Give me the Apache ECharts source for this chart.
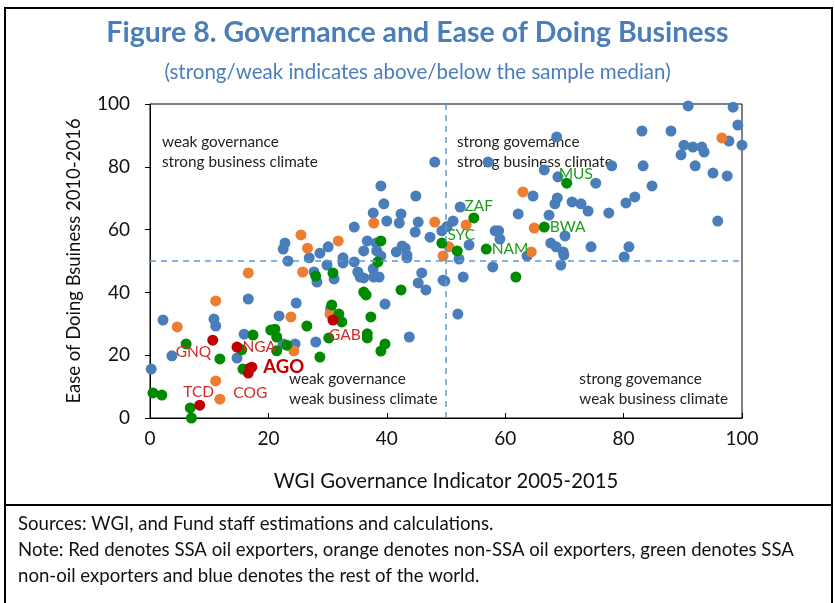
<!DOCTYPE html>
<html>
<head>
<meta charset="utf-8">
<script src="https://cdn.jsdelivr.net/npm/echarts@6/dist/echarts.min.js"></script>
<style>
  html, body { margin: 0; padding: 0; background: #fff; }
  #chart { width: 835px; height: 603px; }
</style>
</head>
<body>
<div id="chart"></div>
<script>
// values: [WGI governance, ease of doing business]
var restOfWorld = [
  [0.2,15.6],[2.2,31.2],[3.7,19.8],[10.8,31.5],[11.1,29.3],[14.7,19.1],[15.9,26.7],[16.6,37.9],
  [21.8,32.5],[22.5,23.6],[24.5,23.6],[24.7,36.6],[22.5,53.8],[22.8,55.7],[23.3,50],[26.9,51],
  [28.7,52.5],[30.1,54.5],[29.9,48.7],[27.7,46.5],[28.2,43.3],[31.1,44.3],[28,24.2],[30.5,34.8],
  [32.6,51],[32.6,49.4],[34.5,49.7],[34.5,60.8],[35.1,46.5],[35.5,44.9],[36.1,44.6],[36.7,56.4],
  [38.2,55.7],[36.1,53.2],[38.3,53.2],[39,51.6],[37.7,47.5],[37.8,44.9],[38.7,44.9],[39,73.9],
  [39.5,68.2],[37.7,65.3],[42.4,65],[40,62.7],[42.1,62.1],[45.3,62.4],[44.9,70.7],[44.8,59.2],
  [47.3,57.6],[49.3,59.6],[50.2,61],[51.2,62.7],[52.4,67.2],[48.1,81.5],[42.6,54.8],[43.1,54.1],
  [41.6,52.9],[43.4,51.9],[43.4,51],[45.9,46.2],[45.3,43],[46.6,40.8],[39.7,36.3],[43.8,25.8],
  [49.5,43.9],[52.2,50.6],[52.9,44.9],[52,33.1],[53.9,55.1],[57.9,48.1],[58.3,59.6],[58.9,59.6],
  [59.1,57],[57.1,81.5],[62.2,65],[63.7,51.6],[64.7,70.7],[66.6,79],[67.4,64.6],[67.7,55.7],
  [68.6,54.5],[69.8,52.9],[69.4,48.7],[70.1,58],[68.8,70.1],[68.4,68.2],[68.9,76.8],[68.7,89.5],
  [71.3,68.8],[72.8,68.2],[74,65.9],[74.5,54.5],[75.3,74.8],[77.5,65.3],[78,80.3],[80.1,51.3],
  [80.9,54.5],[80.4,68.5],[81.9,70.4],[83.3,80.3],[84.8,73.9],[83.1,91.4],[88,91.4],[89.7,83.8],
  [90.2,86.9],[91.7,86.3],[93.2,86.3],[93.6,84.7],[90.9,99.4],[92.1,80.3],[95.1,78],[95.9,62.7],
  [97.5,77.1],[97.8,88.2],[98.5,99],[99.3,93.3],[100,86.9],[49.8,43.6],[69.9,51.9]
];

var nonSsaOil = [
  [4.6,29],[11.1,37.3],[11.1,11.8],[11.8,6],[16.6,46.2],[23.8,32.2],[24.3,21.4],[25.5,58.3],
  [26.6,54.1],[25.8,46.5],[31.8,56.4],[30.4,33.1],[37.8,62.1],[48.1,62.4],[49.5,51.6],[50.5,54.5],
  [53.4,61.5],[63,72],[64.9,60.5],[64.4,52.9],[96.6,89.2]
];

var ssaNonOil = [
  [0.5,8],[2,7.3],[6.1,23.6],[6.8,3.2],[7,0],[11.8,18.8],[15.5,21.7],[15.7,15.6],[17.4,26.4],
  [20.4,28],[21.1,28.3],[21.4,25.8],[21.4,21.4],[23.1,23.2],[26.5,29.3],[28,45.2],[30.9,46.2],
  [28.7,19.4],[30.2,25.5],[30.7,36],[31.9,33.1],[32.4,30.6],[36.1,40.1],[36.5,39.2],[37.3,32.2],
  [36.7,26.8],[36.7,25.5],[39,56.4],[38.5,49.7],[42.4,40.8],[39.7,23.6],[39,21.3],[49.3,55.7],
  [51.9,53.2],[54.7,63.7],[56.8,53.8],[61.8,44.9],[66.6,60.8],[70.4,74.8]
];
var ssaNonOilNames = ['','','','','','','','','','','','','','','','','','','','','','','','','','','','','','','','','',
  'SYC','ZAF','NAM','','BWA','MUS'];

var ssaOil = [[10.6,24.8],[14.7,22.6],[17.2,16.2],[16.6,14.3],[16.9,15.9],[8.4,4.1],[30.9,31.2]];
var ssaOilNames = ['GNQ','NGA','AGO','COG','','TCD','GAB'];

var xTicks = [0, 20, 40, 60, 80, 100];
var yTicks = [0, 20, 40, 60, 80, 100];
var median = 50;

var FONT = 'Lato';
var BLUE = '#4A7EBB', ORANGE = '#ED7D31', GREEN = '#008A00', RED = '#C00000';

// where each country label sits relative to its dot
var labelPlace = {
  GNQ: { position: 'left', offset: [6, 12] },
  NGA: { position: 'right', offset: [-2, 0] },
  AGO: { position: 'right', offset: [4, 0], fontWeight: 'bold', fontSize: 18.5, color: '#C00000' },
  COG: { position: 'bottom', offset: [2, 4] },
  TCD: { position: 'top', offset: [-1, 2] },
  GAB: { position: 'bottom', offset: [12, -1] },
  SYC: { position: 'top', offset: [4, 0] },
  ZAF: { position: 'top', offset: [5, 4] },
  NAM: { position: 'right', offset: [-2, 0] },
  BWA: { position: 'right', offset: [-2, 0] },
  MUS: { position: 'top', offset: [9, 6] }
};

function labelled(points, names, color) {
  return points.map(function (p, i) {
    var n = names[i];
    if (!n) return { value: p };
    var pl = labelPlace[n];
    return {
      value: p,
      name: n,
      label: {
        show: true,
        formatter: n,
        position: pl.position,
        offset: pl.offset,
        color: pl.color || color,
        fontSize: pl.fontSize || 15.5,
        fontWeight: pl.fontWeight || 'normal',
        fontFamily: FONT,
        distance: 2
      }
    };
  });
}

var chart = echarts.init(document.getElementById('chart'));

var quadText = { fontFamily: FONT, fontSize: 15.3, fill: '#222', lineHeight: 20 };

var option = {
  animation: false,
  backgroundColor: '#fff',
  title: [
    {
      text: 'Figure 8. Governance and Ease of Doing Business',
      left: 'center', top: 13,
      textStyle: { fontFamily: FONT, fontSize: 28.5, fontWeight: 'bold', color: '#4A7EBB' }
    },
    {
      text: '(strong/weak indicates above/below the sample median)',
      left: 'center', top: 57,
      textStyle: { fontFamily: FONT, fontSize: 20.5, fontWeight: 'normal', color: '#4A7EBB' }
    }
  ],
  grid: { left: 150, right: 93, top: 104, bottom: 185, show: true, borderColor: '#000', borderWidth: 1 },
  xAxis: {
    type: 'value', min: xTicks[0], max: xTicks[xTicks.length - 1], interval: 20,
    name: 'WGI Governance Indicator 2005-2015', nameLocation: 'middle', nameGap: 53,
    nameTextStyle: { fontFamily: FONT, fontSize: 20.3, color: '#111' },
    axisLine: { lineStyle: { color: '#000', width: 1 } },
    axisTick: { inside: true, length: 5, lineStyle: { color: '#000' } },
    axisLabel: { fontFamily: FONT, fontSize: 19, color: '#111', margin: 11 },
    splitLine: { show: false }
  },
  yAxis: {
    type: 'value', min: yTicks[0], max: yTicks[yTicks.length - 1], interval: 20,
    name: 'Ease of Doing Bsuiness 2010-2016', nameLocation: 'middle', nameGap: 66, nameRotate: 90,
    nameTextStyle: { fontFamily: FONT, fontSize: 18.5, color: '#111' },
    axisLine: { lineStyle: { color: '#000', width: 1 } },
    axisTick: { inside: false, length: 5, lineStyle: { color: '#000' } },
    axisLabel: { fontFamily: FONT, fontSize: 19, color: '#111', margin: 20 },
    splitLine: { show: false }
  },
  series: [
    {
      name: 'rest of the world', type: 'scatter', symbolSize: 11,
      itemStyle: { color: BLUE, opacity: 1 },
      data: restOfWorld,
      markLine: {
        silent: true, symbol: 'none', label: { show: false },
        lineStyle: { color: '#5B9BD5', type: [6, 5], width: 1.5 },
        data: [{ xAxis: median }, { yAxis: median }]
      },
      z: 2
    },
    {
      name: 'non-SSA oil exporters', type: 'scatter', symbolSize: 11,
      itemStyle: { color: ORANGE, opacity: 1 },
      data: nonSsaOil, z: 3
    },
    {
      name: 'SSA non-oil exporters', type: 'scatter', symbolSize: 11,
      itemStyle: { color: GREEN, opacity: 1 },
      data: labelled(ssaNonOil, ssaNonOilNames, '#1E9E1E'), z: 4
    },
    {
      name: 'SSA oil exporters', type: 'scatter', symbolSize: 11,
      itemStyle: { color: RED, opacity: 1 },
      data: labelled(ssaOil, ssaOilNames, '#D42A2A'), z: 5
    }
  ],
  graphic: [
    { type: 'rect', shape: { x: 5, y: 8, width: 827, height: 610 }, style: { fill: 'none', stroke: '#000', lineWidth: 2 }, z: -1 },
    { type: 'line', shape: { x1: 5, y1: 505, x2: 832, y2: 505 }, style: { stroke: '#000', lineWidth: 2 } },
    { type: 'text', left: 162, top: 132, style: Object.assign({ text: 'weak governance\nstrong business climate' }, quadText) },
    { type: 'text', left: 457, top: 132, style: Object.assign({ text: 'strong govemance\nstrong business climate' }, quadText) },
    { type: 'text', left: 289, top: 369, style: Object.assign({ text: 'weak governance\nweak business climate' }, quadText) },
    { type: 'text', right: 107, top: 369, style: Object.assign({ text: 'strong govemance\nweak business climate', align: 'right' }, quadText) },
    {
      type: 'text', left: 18, top: 511,
      style: {
        text: 'Sources: WGI, and Fund staff estimations and calculations.\n' +
              'Note: Red denotes SSA oil exporters, orange denotes non-SSA oil exporters, green denotes SSA\n' +
              'non-oil exporters and blue denotes the rest of the world.',
        fontFamily: FONT, fontSize: 18.6, fill: '#111', lineHeight: 26
      }
    }
  ]
};

chart.setOption(option);
</script>
</body>
</html>
